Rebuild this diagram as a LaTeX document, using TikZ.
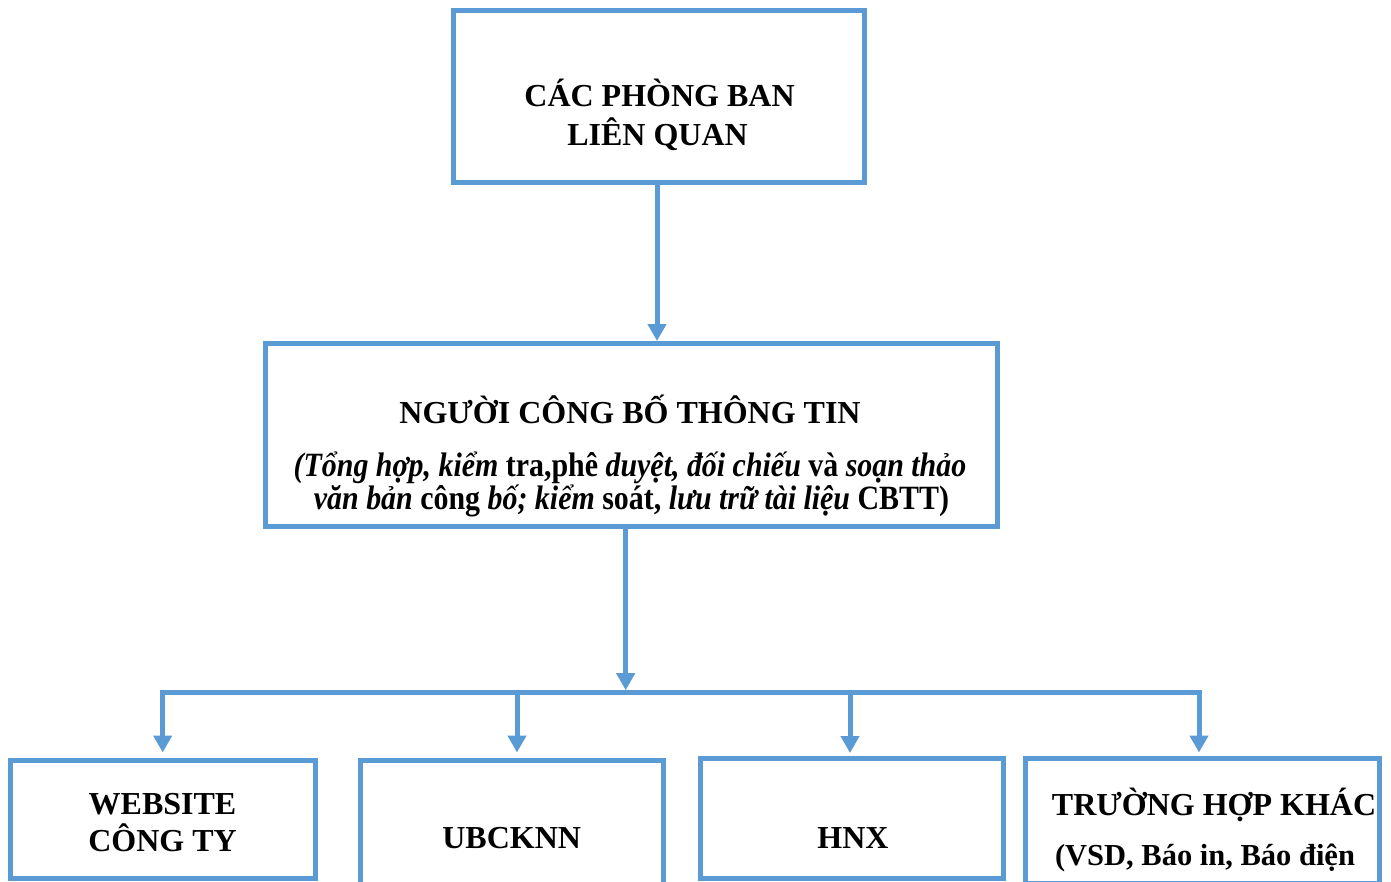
\documentclass[tikz,border=0pt]{standalone}
\usepackage{fontspec}
\setmainfont{Liberation Serif}
\newfontfamily\condserif[FakeStretch=0.88]{Liberation Serif}
\usetikzlibrary{arrows.meta}
\definecolor{boxblue}{HTML}{5B9BD5}
\begin{document}
\begin{tikzpicture}[x=1pt,y=-1pt,
  boxst/.style={draw=boxblue, line width=5pt, inner sep=0pt, outer sep=0pt, anchor=north west},
  conn/.style={draw=boxblue, line width=5pt, line join=miter, -{Triangle[width=18pt,length=17pt]}},
  txt/.style={inner sep=0pt, outer sep=0pt, anchor=base, font=\bfseries\fontsize{32}{38}\selectfont},
  itxt/.style={inner sep=0pt, outer sep=0pt, anchor=base, font=\condserif\bfseries\fontsize{34}{36}\selectfont}]
\useasboundingbox (0,0) rectangle (1391,881);
\clip (0,0) rectangle (1391,881);
\fill[white] (0,0) rectangle (1391,881);
% boxes
\node[boxst, minimum width=411pt, minimum height=172pt] (top) at (453,10) {};
\node[boxst, minimum width=731.5pt, minimum height=183pt] (mid) at (265.5,343.5) {};
\node[boxst, minimum width=305.5pt, minimum height=118.5pt] (web) at (10,760) {};
\node[boxst, minimum width=303pt, minimum height=125pt] (ubck) at (360,760) {};
\node[boxst, minimum width=303pt, minimum height=120.5pt] (hnx) at (700.5,758) {};
\node[boxst, minimum width=354pt, minimum height=125pt] (other) at (1025.5,758.5) {};
% texts
\node[txt] (t1) at (659.5,106.7) {CÁC PHÒNG BAN};
\node[txt] (t2) at (657.5,145) {LIÊN QUAN};
\node[txt] (m1) at (630,423.3) {NGƯỜI CÔNG BỐ THÔNG TIN};
\node[itxt] (m2) at (630,476.7) {\textit{(Tổng hợp, kiểm} tra,phê \textit{duyệt, đối chiếu} và \textit{soạn thảo}};
\node[itxt] (m3) at (631.5,509) {\textit{văn bản} công \textit{bố; kiểm} soát, \textit{lưu trữ tài liệu} CBTT)};
\node[txt] (w1) at (162.5,814) {WEBSITE};
\node[txt] (w2) at (162.5,851.7) {CÔNG TY};
\node[txt] (u1) at (511.7,848.3) {UBCKNN};
\node[txt] (h1) at (853,848.3) {HNX};
\node[txt] (o1) at (1214,815) {TRƯỜNG HỢP KHÁC};
\node[txt, font=\bfseries\fontsize{30.5}{36}\selectfont] (o2) at (1205,865) {(VSD, Báo in, Báo điện};
% connector coordinates
\coordinate (x1) at (657,0);
\coordinate (x2) at (625.7,0);
\coordinate (bus) at (625.7,692.7);
\coordinate (d1) at (162.7,0);
\coordinate (d2) at (517,0);
\coordinate (d3) at (850,0);
\coordinate (d4) at (1199,0);
% connectors
\draw[conn, shorten >=2.5pt] (top.south -| x1) -- (mid.north -| x1);
\draw[conn, shorten >=2.5pt] (mid.south -| x2) -- (bus);
\draw[conn, shorten >=7.5pt] (bus) -| (web.north -| d1);
\draw[conn, shorten >=6pt] (bus) -| (other.north -| d4);
\draw[conn, shorten >=7.5pt] (bus -| d2) -- (ubck.north -| d2);
\draw[conn, shorten >=5pt] (bus -| d3) -- (hnx.north -| d3);
\end{tikzpicture}
\end{document}
